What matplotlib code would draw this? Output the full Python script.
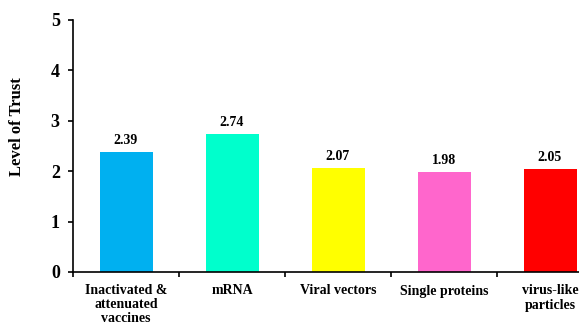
import matplotlib
matplotlib.use("Agg")
import matplotlib.pyplot as plt
import numpy as np

categories = ["Inactivated &\nattenuated\nvaccines", "mRNA", "Viral vectors",
              "Single proteins", "virus-like\nparticles"]
values = [2.39, 2.74, 2.07, 1.98, 2.05]
colors = ["#00B0F0", "#00FFCC", "#FFFF00", "#FF66CC", "#FF0000"]
yticks = [0, 1, 2, 3, 4, 5]

plt.rcParams["font.family"] = ["Liberation Serif", "DejaVu Serif"]
plt.rcParams["font.weight"] = "bold"

fig = plt.figure(figsize=(5.79, 3.25), dpi=100)
ax = fig.add_axes([73 / 579, 1 - 272 / 325, 530 / 579, 252 / 325])

x = np.arange(len(categories))
bars = ax.bar(x, values, width=0.5, color=colors, zorder=2)
for xi, v in zip(x, values):
    ax.text(xi, v + 0.1, f"{v:.2f}", ha="center", va="bottom",
            fontsize=10, fontweight="bold")

ax.set_xlim(-0.5, len(categories) - 0.5)
ax.set_ylim(0, 5)
ax.set_yticks(yticks)
ax.set_yticklabels([str(t) for t in yticks], fontsize=13, fontweight="bold")
ax.set_xticks(x)
ax.set_xticklabels(categories, fontsize=10, fontweight="bold", linespacing=1.1)
ax.set_xticks(np.arange(len(categories) + 1) - 0.5, minor=True)
ax.tick_params(axis="x", which="major", length=0, pad=9)
ax.tick_params(axis="x", which="minor", length=3.5, width=1.2, direction="out")
ax.tick_params(axis="y", length=3.5, width=1.2, direction="out", pad=6)

for s in ["top", "right"]:
    ax.spines[s].set_visible(False)
for s in ["left", "bottom"]:
    ax.spines[s].set_linewidth(1.2)

fig.text(17 / 579, 1 - 127 / 325, "Level of Trust", rotation=90,
         ha="center", va="center", fontsize=12, fontweight="bold")

fig.savefig("out.png", dpi=100)
